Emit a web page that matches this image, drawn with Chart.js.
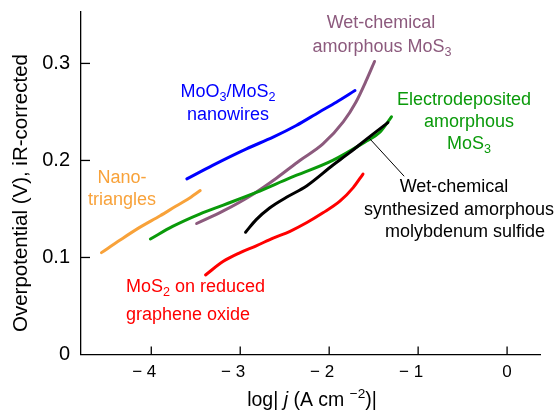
<!DOCTYPE html>
<html>
<head>
<meta charset="utf-8">
<script src="https://cdn.jsdelivr.net/npm/chart.js@4.4.0/dist/chart.umd.min.js"></script>
<style>
  html, body { margin: 0; padding: 0; background: #fff; }
</style>
</head>
<body>
<canvas id="chart" width="558" height="412"></canvas>
<script>
// axis ticks
const xTicks = [-4, -3, -2, -1, 0];
const yTicks = [0, 0.1, 0.2, 0.3];

// Tafel curves (x = log|j|, y = overpotential V)
const nanoX = [-4.56, -4.35, -4.13, -3.90, -3.72, -3.59, -3.45];
const nanoY = [0.105, 0.118, 0.131, 0.143, 0.153, 0.160, 0.169];

const wireX = [-3.60, -3.31, -2.93, -2.63, -2.37, -2.11, -1.92, -1.71];
const wireY = [0.181, 0.195, 0.212, 0.224, 0.236, 0.250, 0.260, 0.272];

const wetX = [-3.49, -3.19, -2.86, -2.59, -2.33, -2.07, -1.84, -1.70, -1.58, -1.49];
const wetY = [0.135, 0.148, 0.165, 0.182, 0.200, 0.217, 0.240, 0.260, 0.283, 0.302];

const electroX = [-4.01, -3.76, -3.45, -3.19, -2.82, -2.44, -1.96, -1.58, -1.43, -1.30];
const electroY = [0.119, 0.132, 0.145, 0.154, 0.167, 0.182, 0.200, 0.220, 0.229, 0.245];

const synthX = [-2.94, -2.82, -2.67, -2.48, -2.25, -1.96, -1.77, -1.58, -1.34];
const synthY = [0.126, 0.139, 0.151, 0.162, 0.174, 0.195, 0.208, 0.222, 0.239];

const rgoX = [-3.39, -3.19, -3.00, -2.82, -2.63, -2.44, -2.25, -2.07, -1.88, -1.73, -1.62];
const rgoY = [0.082, 0.096, 0.105, 0.112, 0.120, 0.127, 0.136, 0.146, 0.158, 0.172, 0.186];

// pointer from the black curve to its label
const leaderX = [-1.55, -1.16];
const leaderY = [0.223, 0.184];

const FAM = '"Liberation Sans", Arial, Helvetica, sans-serif';
const C = {
  blue: '#0000ff', purple: '#8c5a7d', green: '#0a9a0a',
  orange: '#f8a23a', red: '#ff0000', black: '#000000'
};

function pts(xs, ys) {
  return xs.map((x, i) => ({ x: x, y: ys[i] }));
}

function curve(xs, ys, color, width) {
  return {
    data: pts(xs, ys),
    borderColor: color,
    borderWidth: width || 3,
    pointRadius: 0,
    fill: false,
    cubicInterpolationMode: 'monotone',
    borderCapStyle: 'round'
  };
}

// draws text made of plain / sub / sup / italic pieces
function richText(ctx, x, y, parts, size, color, align) {
  const fontFor = k => (k === 'it' ? 'italic ' : '') +
    ((k === 'sub' || k === 'sup') ? size * 0.7 : size) + 'px ' + FAM;
  let w = 0;
  parts.forEach(([t, k]) => { ctx.font = fontFor(k); w += ctx.measureText(t).width; });
  let cx = align === 'left' ? x : x - w / 2;
  ctx.fillStyle = color;
  ctx.textBaseline = 'middle';
  ctx.textAlign = 'left';
  parts.forEach(([t, k]) => {
    ctx.font = fontFor(k);
    const dy = k === 'sub' ? size * 0.28 : k === 'sup' ? -size * 0.33 : 0;
    ctx.fillText(t, cx, y + dy);
    cx += ctx.measureText(t).width;
  });
}

// ticks pointing into the plot
const inwardTicks = {
  id: 'inwardTicks',
  afterDatasetsDraw(chart) {
    const { ctx, chartArea: a, scales: { x, y } } = chart;
    ctx.save();
    ctx.strokeStyle = '#000';
    ctx.lineWidth = 1.3;
    xTicks.forEach(v => {
      const px = x.getPixelForValue(v);
      ctx.beginPath(); ctx.moveTo(px, a.bottom); ctx.lineTo(px, a.bottom - 8); ctx.stroke();
    });
    yTicks.forEach(v => {
      if (v === 0) return;
      const py = y.getPixelForValue(v);
      ctx.beginPath(); ctx.moveTo(a.left, py); ctx.lineTo(a.left + 9, py); ctx.stroke();
    });
    ctx.restore();
  }
};

// axis titles and curve labels
const labels = {
  id: 'labels',
  afterDraw(chart) {
    const ctx = chart.ctx;
    ctx.save();

    // y title
    ctx.save();
    ctx.translate(21, 193);
    ctx.rotate(-Math.PI / 2);
    richText(ctx, 0, 0, [['Overpotential (V), iR-corrected', '']], 20.5, '#000');
    ctx.restore();

    // x title
    richText(ctx, 312, 401, [['log| ', ''], ['j', 'it'], [' (A cm ', ''], ['\u22122', 'sup'], [')|', '']], 19.5, '#000');

    const s = 18;
    richText(ctx, 228, 92, [['MoO', ''], ['3', 'sub'], ['/MoS', ''], ['2', 'sub']], s, C.blue);
    richText(ctx, 228, 115, [['nanowires', '']], s, C.blue);

    richText(ctx, 381, 23, [['Wet-chemical', '']], s, C.purple);
    richText(ctx, 382, 47, [['amorphous MoS', ''], ['3', 'sub']], s, C.purple);

    richText(ctx, 464, 100, [['Electrodeposited', '']], s, C.green);
    richText(ctx, 469, 122, [['amorphous', '']], s, C.green);
    richText(ctx, 469, 144, [['MoS', ''], ['3', 'sub']], s, C.green);

    richText(ctx, 122, 178, [['Nano-', '']], s, C.orange);
    richText(ctx, 122, 200, [['triangles', '']], s, C.orange);

    richText(ctx, 126, 287, [['MoS', ''], ['2', 'sub'], [' on reduced', '']], s, C.red, 'left');
    richText(ctx, 126, 315, [['graphene oxide', '']], s, C.red, 'left');

    richText(ctx, 454, 187, [['Wet-chemical', '']], s, '#000');
    richText(ctx, 459, 210, [['synthesized amorphous', '']], s, '#000');
    richText(ctx, 465, 232, [['molybdenum sulfide', '']], s, '#000');

    ctx.restore();
  }
};

new Chart(document.getElementById('chart'), {
  type: 'line',
  data: {
    datasets: [
      curve(leaderX, leaderY, C.black, 1),
      curve(synthX, synthY, C.black),
      curve(rgoX, rgoY, C.red),
      curve(electroX, electroY, C.green),
      curve(wetX, wetY, C.purple),
      curve(wireX, wireY, C.blue),
      curve(nanoX, nanoY, C.orange)
    ]
  },
  options: {
    responsive: false,
    animation: false,
    layout: { padding: { left: 0, right: 18, top: 12, bottom: 0 } },
    plugins: { legend: { display: false }, tooltip: { enabled: false } },
    scales: {
      x: {
        type: 'linear',
        min: -4.79,
        max: 0.37,
        afterBuildTicks: s => { s.ticks = xTicks.map(v => ({ value: v })); },
        afterFit: s => {
          s.height = 57.5;
          s.paddingLeft = 0; s.paddingRight = 0;
        },
        grid: { display: false, drawTicks: false },
        border: { display: true, color: '#000', width: 1.3 },
        ticks: {
          color: '#000',
          font: { family: FAM, size: 17 },
          padding: 8,
          maxRotation: 0,
          autoSkip: false,
          callback: v => v < 0 ? '\u2212 ' + (-v) + '   ' : String(v)
        }
      },
      y: {
        type: 'linear',
        min: 0,
        max: 0.353,
        afterBuildTicks: s => { s.ticks = yTicks.map(v => ({ value: v })); },
        afterFit: s => {
          s.width = 81;
          s.paddingTop = 0; s.paddingBottom = 0;
        },
        grid: { display: false, drawTicks: false },
        border: { display: true, color: '#000', width: 1.3 },
        ticks: {
          color: '#000',
          font: { family: FAM, size: 20 },
          padding: 11,
          autoSkip: false,
          callback: v => v === 0 ? '0' : v.toFixed(1)
        }
      }
    }
  },
  plugins: [inwardTicks, labels]
});
</script>
</body>
</html>
